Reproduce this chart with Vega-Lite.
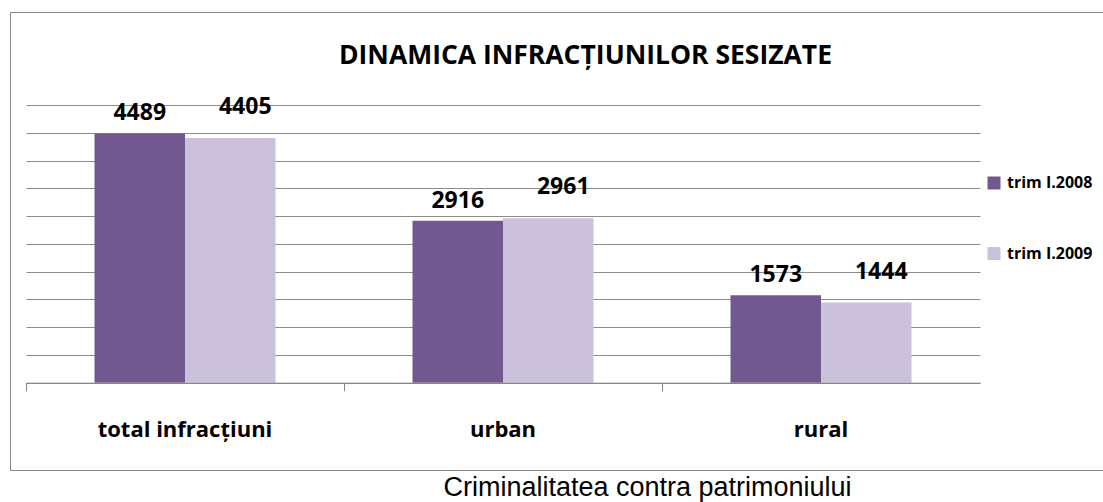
{
  "$schema": "https://vega.github.io/schema/vega-lite/v6.json",
  "width": 1093,
  "height": 458,
  "autosize": {"type": "none"},
  "padding": {"left": 10, "top": 12, "right": 0, "bottom": 32},
  "background": "white",
  "title": {
    "text": "DINAMICA INFRACȚIUNILOR SESIZATE",
    "font": "Open Sans",
    "fontSize": 26.5,
    "fontWeight": "bold",
    "color": "black",
    "anchor": "middle",
    "frame": "group",
    "dx": 29,
    "offset": -78,
    "baseline": "alphabetic"
  },
  "config": {"view": {"stroke": "#868686", "strokeWidth": 1}},
  "data": {
    "values": [
      {"cat": "total infracțiuni", "period": "trim I.2008", "value": 4489},
      {"cat": "total infracțiuni", "period": "trim I.2009", "value": 4405},
      {"cat": "urban", "period": "trim I.2008", "value": 2916},
      {"cat": "urban", "period": "trim I.2009", "value": 2961},
      {"cat": "rural", "period": "trim I.2008", "value": 1573},
      {"cat": "rural", "period": "trim I.2009", "value": 1444}
    ]
  },
  "encoding": {
    "x": {
      "field": "cat",
      "type": "nominal",
      "sort": ["total infracțiuni", "urban", "rural"],
      "scale": {"range": [16, 970], "paddingInner": 0, "paddingOuter": 0},
      "axis": {
        "title": "Criminalitatea contra patrimoniului",
        "offset": -87.3,
        "zindex": 1,
        "bandPosition": 0,
        "labelOffset": 0,
        "domainColor": "#868686",
        "tickColor": "#868686",
        "tickSize": 8,
        "labelFont": "Open Sans",
        "labelFontWeight": "bold",
        "labelFontSize": 22,
        "labelColor": "black",
        "labelAngle": 0,
        "labelBaseline": "alphabetic",
        "labelPadding": 46,
        "titleFont": "Liberation Sans",
        "titleFontSize": 27,
        "titleFontWeight": "normal",
        "titleColor": "black",
        "titleX": 637,
        "titleY": 113,
        "titleAlign": "center",
        "titleBaseline": "alphabetic",
        "grid": false
      }
    },
    "y": {
      "field": "value",
      "type": "quantitative",
      "scale": {"domain": [0, 5000], "range": [370.7, 93]},
      "axis": {
        "grid": true,
        "values": [0, 500, 1000, 1500, 2000, 2500, 3000, 3500, 4000, 4500, 5000],
        "labels": false,
        "ticks": false,
        "domain": false,
        "title": null,
        "gridColor": "#8c8c8c",
        "gridWidth": 1
      }
    }
  },
  "layer": [
    {
      "mark": {"type": "bar"},
      "encoding": {
        "xOffset": {
          "field": "period",
          "type": "nominal",
          "scale": {"paddingInner": 0, "paddingOuter": 0.757}
        },
        "color": {
          "field": "period",
          "type": "nominal",
          "scale": {"range": ["#71588F", "#CCC1DA"]},
          "legend": {
            "orient": "none",
            "legendX": 976,
            "legendY": 163,
            "title": null,
            "padding": 0,
            "symbolType": "square",
            "symbolSize": 169,
            "symbolStrokeWidth": 0,
            "symbolOpacity": 1,
            "rowPadding": 54.6,
            "labelOffset": 5,
            "labelFont": "Open Sans",
            "labelFontWeight": "bold",
            "labelFontSize": 16,
            "labelColor": "black"
          }
        }
      }
    },
    {
      "transform": [{"filter": "datum.period == 'trim I.2008'"}],
      "mark": {"type": "text", "font": "Open Sans", "fontWeight": "bold", "fontSize": 23, "color": "black", "baseline": "alphabetic", "dy": -13},
      "encoding": {
        "xOffset": {"field": "period", "type": "nominal"},
        "text": {"field": "value", "type": "quantitative", "format": "d"}
      }
    },
    {
      "transform": [{"filter": "datum.period == 'trim I.2009'"}],
      "mark": {"type": "text", "font": "Open Sans", "fontWeight": "bold", "fontSize": 23, "color": "black", "baseline": "alphabetic", "dy": -24, "dx": 15},
      "encoding": {
        "xOffset": {"field": "period", "type": "nominal"},
        "text": {"field": "value", "type": "quantitative", "format": "d"}
      }
    },
    {
      "data": {"values": [{"cat": "rural"}]},
      "mark": {"type": "rule", "color": "#868686", "strokeWidth": 1},
      "encoding": {
        "x": {"field": "cat", "type": "nominal", "sort": ["total infracțiuni", "urban", "rural"], "bandPosition": 1},
        "y": {"datum": 0},
        "y2": {"datum": -144}
      }
    }
  ]
}
